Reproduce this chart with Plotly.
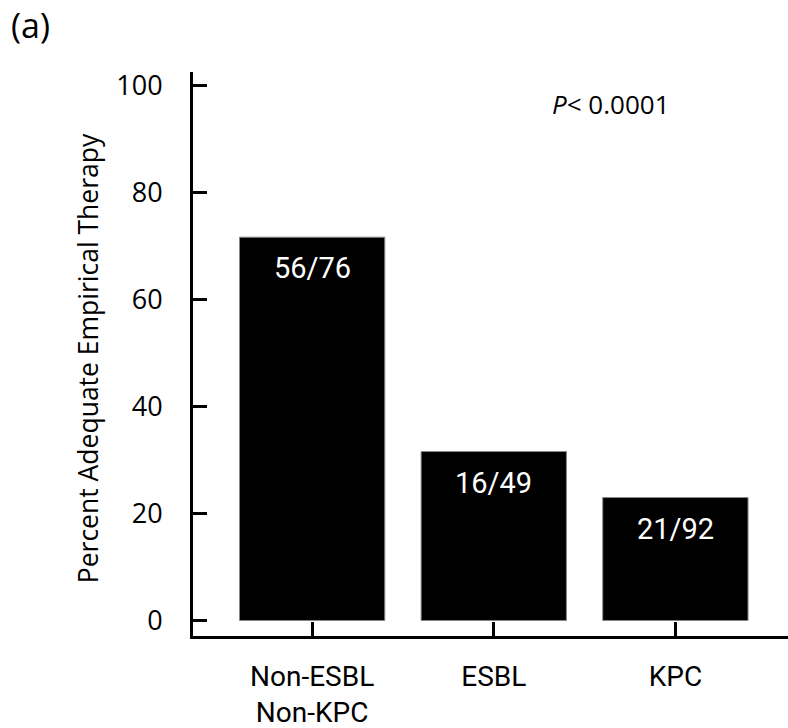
import plotly.graph_objects as go

categories = ["Non-ESBL<br>Non-KPC", "ESBL", "KPC"]
percent_adequate = [71.7, 31.6, 23.0]
bar_labels = ["56/76", "16/49", "21/92"]
y_ticks = [0, 20, 40, 60, 80, 100]

x_pos = list(range(len(categories)))

fig = go.Figure()
fig.add_trace(go.Bar(
    x=x_pos, y=percent_adequate, width=0.8,
    marker=dict(color="black", line=dict(color="#888888", width=1)),
    showlegend=False, hoverinfo="skip",
))

for xi, yi, lab in zip(x_pos, percent_adequate, bar_labels):
    fig.add_annotation(x=xi, y=yi, text=lab, showarrow=False, yanchor="middle",
                       yshift=-31, font=dict(family="Roboto", size=29, color="white"))

fig.add_annotation(xref="paper", yref="paper", x=0.703, y=0.943, xanchor="center",
                   yanchor="middle", text="<i>P</i>< 0.0001", showarrow=False,
                   font=dict(family="Open Sans", size=26, color="black"))
fig.add_annotation(xref="paper", yref="paper", x=-0.31, y=1.128, xanchor="left", yanchor="top",
                   text="(a)", showarrow=False,
                   font=dict(family="Open Sans", size=34, color="black"))
fig.add_annotation(xref="paper", yref="paper", x=-0.176, y=0.493, xanchor="center",
                   yanchor="middle", textangle=-90, showarrow=False,
                   text="Percent Adequate Empirical Therapy",
                   font=dict(family="Open Sans", size=26.5, color="black"))

fig.update_layout(
    width=788, height=728,
    margin=dict(l=193, r=0, t=72, b=92),
    plot_bgcolor="white", paper_bgcolor="white",
)
fig.update_xaxes(
    range=[-0.656, 2.62], tickvals=x_pos, ticktext=categories,
    showline=True, linecolor="black", linewidth=3,
    ticks="inside", ticklen=14, tickwidth=2.5, tickcolor="black",
    showgrid=False, zeroline=False, automargin=False,
    tickfont=dict(family="Roboto", size=28, color="black"),
    ticklabelstandoff=13,
)
fig.update_yaxes(
    range=[-2.9, 102.6], tickvals=y_ticks,
    showline=True, linecolor="black", linewidth=3,
    ticks="inside", ticklen=14, tickwidth=2.5, tickcolor="black",
    showgrid=False, zeroline=False, automargin=False,
    tickfont=dict(family="Open Sans", size=27, color="black"),
    ticklabelstandoff=22,
)

fig.write_html("out.html", config={"displayModeBar": False},
               post_script="document.body.style.margin='0';")
